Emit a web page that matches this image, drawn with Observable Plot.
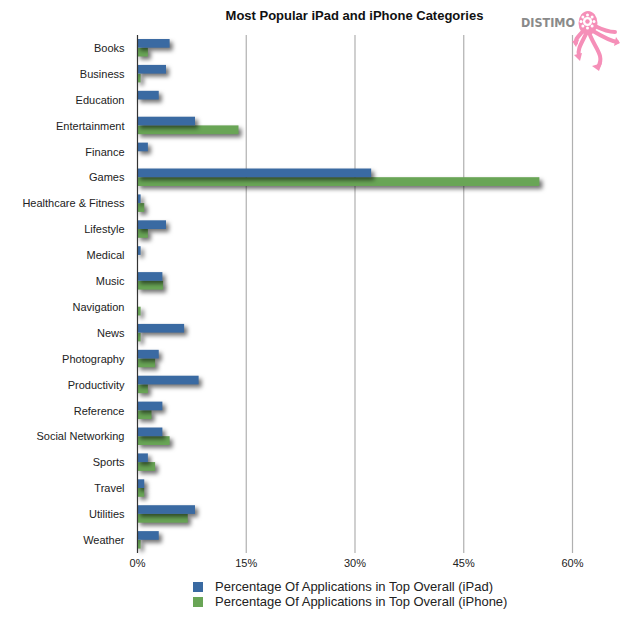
<!DOCTYPE html>
<html>
<head>
<meta charset="utf-8">
<script src="https://cdn.jsdelivr.net/npm/d3@7"></script>
<script src="https://cdn.jsdelivr.net/npm/@observablehq/plot@0.6"></script>
<style>
  body { margin: 0; background: #fff; font-family: "Liberation Sans", Arial, sans-serif; }
  #wrap { position: relative; width: 620px; height: 620px; }
  #title { position: absolute; left: 137px; top: 0; height: 28px; width: 435px; text-align: center; font-weight: bold; font-size: 13px; line-height: 32px; color: #111; }
  #chart { position: absolute; left: 0; top: 28px; line-height: 0; }
  #legend { position: absolute; left: 193px; top: 579px; font-size: 13px; color: #222; }
  #legend div { height: 15px; line-height: 15px; display: flex; align-items: center; }
  #legend span.sw { display: inline-block; width: 10px; height: 10px; margin-right: 12px; }
  #logo { position: absolute; left: 515px; top: 0px; }
</style>
</head>
<body>
<div id="wrap">
  <div id="title">Most Popular iPad and iPhone Categories</div>
  <div id="chart"></div>
  <div id="legend"></div>
  <svg id="logo" width="105" height="75" viewBox="0 0 105 75">
    <text x="6" y="27" font-family="DejaVu Sans, sans-serif" font-weight="bold" font-size="13" fill="#8a8a8a" textLength="54" lengthAdjust="spacingAndGlyphs">DISTIMO</text>
    <g fill="none" stroke="#f58fb8" stroke-width="4" stroke-linecap="round">
      <path d="M68 31 C 63 37, 60 39, 61 43"/>
      <path d="M71 34 C 66 44, 62 50, 64 56"/>
      <path d="M75 35 C 80 48, 90 56, 83 67"/>
      <path d="M78 31 C 88 37, 96 41, 102 42"/>
      <path d="M80 26 C 88 30, 95 32, 100 32"/>
    </g>
    <g fill="#f58fb8">
      <path d="M57 41 L 64 40 L 61 47 Z"/>
      <path d="M59 55 L 67 53 L 65 61 Z"/>
      <path d="M77 66 L 87 63 L 84 71 Z"/>
      <path d="M101 37 L 105 43 L 99 46 Z"/>
      <ellipse cx="73" cy="23" rx="9.5" ry="12"/>
    </g>
    <circle cx="72.5" cy="21.5" r="4.6" fill="#fff"/>
    <circle cx="72.5" cy="21.5" r="2.2" fill="#f58fb8"/>
    <g fill="#fff">
      <circle cx="72.5" cy="15" r="1.5"/><circle cx="72.5" cy="28" r="1.5"/>
      <circle cx="66" cy="21.5" r="1.5"/><circle cx="79" cy="21.5" r="1.5"/>
      <circle cx="67.9" cy="16.9" r="1.5"/><circle cx="77.1" cy="16.9" r="1.5"/>
      <circle cx="67.9" cy="26.1" r="1.5"/><circle cx="77.1" cy="26.1" r="1.5"/>
    </g>
  </svg>
</div>
<script>
const categories = ["Books","Business","Education","Entertainment","Finance","Games","Healthcare & Fitness","Lifestyle","Medical","Music","Navigation","News","Photography","Productivity","Reference","Social Networking","Sports","Travel","Utilities","Weather"];
const ipad   = [4.5, 4.0, 3.0, 8.0, 1.5, 32.3, 0.5, 4.0, 0.5, 3.5, 0.0, 6.5, 3.0, 8.5, 3.5, 3.5, 1.5, 1.0, 8.0, 3.0];
const iphone = [1.5, 0.5, 0.0, 14.0, 0.0, 55.5, 1.0, 1.5, 0.0, 3.6, 0.5, 0.5, 2.5, 1.5, 2.0, 4.5, 2.5, 1.0, 7.0, 0.5];
const seriesNames = ["Percentage Of Applications in Top Overall (iPad)", "Percentage Of Applications in Top Overall (iPhone)"];
const seriesColors = ["#3a6aa2", "#69a556"];
const xTicks = [0, 15, 30, 45, 60];

const ipadData = categories.map((c, i) => ({category: c, value: ipad[i]}));
const iphoneData = categories.map((c, i) => ({category: c, value: iphone[i]}));

const bw = (553 - 35) / categories.length;

const plot = Plot.plot({
  width: 620,
  height: 548,
  marginTop: 7,
  marginBottom: 23,
  marginLeft: 137,
  marginRight: 48,
  style: { fontFamily: "'Liberation Sans', Arial, sans-serif", fontSize: "11px", color: "#222", background: "#fff" },
  x: { domain: [0, 60], ticks: xTicks, tickFormat: d => d + "%", tickSize: 0, tickPadding: 6, label: null },
  y: { domain: categories, padding: 0, round: false, tickSize: 0, tickPadding: 13, label: null },
  marks: [
    Plot.ruleX(xTicks.slice(1), { stroke: "#b0b0b0", strokeWidth: 1.2 }),
    Plot.barX(iphoneData, { x: "value", y: "category", fill: seriesColors[1], insetTop: bw * 0.49, insetBottom: bw * 0.17 }),
    Plot.barX(ipadData, { x: "value", y: "category", fill: seriesColors[0], insetTop: bw * 0.155, insetBottom: bw * 0.51 }),
    Plot.ruleX([0], { stroke: "#333", strokeWidth: 1.2 })
  ]
});
plot.querySelectorAll('g[aria-label="bar"]').forEach(g => {
  g.style.filter = "drop-shadow(3px 3px 2px rgba(0,0,0,0.55))";
});
document.getElementById("chart").appendChild(plot);

const legend = document.getElementById("legend");
seriesNames.forEach((n, i) => {
  const row = document.createElement("div");
  const sw = document.createElement("span");
  sw.className = "sw";
  sw.style.background = seriesColors[i];
  row.appendChild(sw);
  row.appendChild(document.createTextNode(n));
  legend.appendChild(row);
});
</script>
</body>
</html>
